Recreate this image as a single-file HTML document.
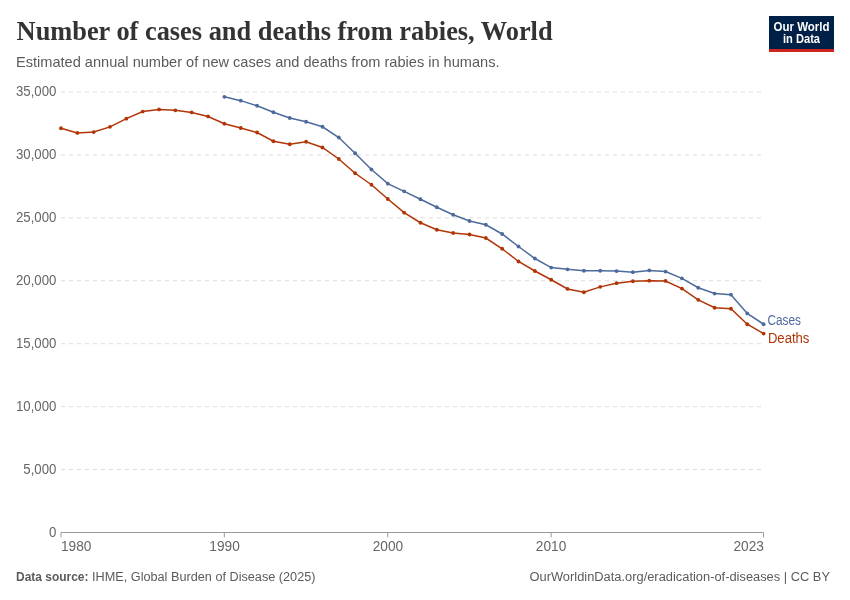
<!DOCTYPE html>
<html><head><meta charset="utf-8"><style>
html,body{margin:0;padding:0;background:#fff;width:850px;height:600px;overflow:hidden;}
svg{position:absolute;left:0;top:0;will-change:transform;}
text{font-family:"Liberation Sans",sans-serif;}
</style></head><body>
<svg width="850" height="600" viewBox="0 0 850 600">
<text x="16.6" y="40" font-family="Liberation Serif" font-weight="bold" font-size="27" fill="#333" textLength="536" lengthAdjust="spacingAndGlyphs" style="font-family:'Liberation Serif',serif">Number of cases and deaths from rabies, World</text>
<text x="16" y="66.6" font-size="15" fill="#5b5b5b" textLength="483.5" lengthAdjust="spacingAndGlyphs">Estimated annual number of new cases and deaths from rabies in humans.</text>
<rect x="769" y="16" width="65" height="36" fill="#002147"/>
<rect x="769" y="49" width="65" height="3" fill="#ce261e"/>
<text x="773.5" y="30.5" font-size="12.4" font-weight="bold" fill="#fff" textLength="56" lengthAdjust="spacingAndGlyphs">Our World</text>
<text x="783" y="42.7" font-size="12.4" font-weight="bold" fill="#fff" textLength="37" lengthAdjust="spacingAndGlyphs">in Data</text>
<g stroke="#ddd" stroke-width="1" stroke-dasharray="4,4"><line x1="61" x2="762" y1="92.0" y2="92.0"/><line x1="61" x2="762" y1="154.93" y2="154.93"/><line x1="61" x2="762" y1="217.86" y2="217.86"/><line x1="61" x2="762" y1="280.79" y2="280.79"/><line x1="61" x2="762" y1="343.71" y2="343.71"/><line x1="61" x2="762" y1="406.64" y2="406.64"/><line x1="61" x2="762" y1="469.57" y2="469.57"/></g>
<g font-size="14" fill="#666" text-anchor="end"><text x="56.4" y="96.0" textLength="40.46" lengthAdjust="spacingAndGlyphs">35,000</text><text x="56.4" y="158.93" textLength="40.46" lengthAdjust="spacingAndGlyphs">30,000</text><text x="56.4" y="221.86" textLength="40.46" lengthAdjust="spacingAndGlyphs">25,000</text><text x="56.4" y="284.79" textLength="40.46" lengthAdjust="spacingAndGlyphs">20,000</text><text x="56.4" y="347.71" textLength="40.46" lengthAdjust="spacingAndGlyphs">15,000</text><text x="56.4" y="410.64" textLength="40.46" lengthAdjust="spacingAndGlyphs">10,000</text><text x="56.4" y="473.57" textLength="33.1" lengthAdjust="spacingAndGlyphs">5,000</text><text x="56.4" y="536.5" textLength="7.4" lengthAdjust="spacingAndGlyphs">0</text></g>
<line x1="61" x2="763.5" y1="532.5" y2="532.5" stroke="#999" stroke-width="1"/>
<g stroke="#999" stroke-width="1">
<line x1="61" x2="61" y1="532.5" y2="537.3"/><line x1="224.3" x2="224.3" y1="532.5" y2="537.3"/><line x1="387.7" x2="387.7" y1="532.5" y2="537.3"/><line x1="551.1" x2="551.1" y1="532.5" y2="537.3"/><line x1="763.5" x2="763.5" y1="532.5" y2="537.3"/>
</g>
<g font-size="14" fill="#666" text-anchor="middle">
<text x="61" y="550.6" text-anchor="start" textLength="30.5" lengthAdjust="spacingAndGlyphs">1980</text><text x="224.6" y="550.6" textLength="30.5" lengthAdjust="spacingAndGlyphs">1990</text><text x="387.9" y="550.6" textLength="30.5" lengthAdjust="spacingAndGlyphs">2000</text><text x="551.1" y="550.6" textLength="30.5" lengthAdjust="spacingAndGlyphs">2010</text><text x="764" y="550.6" text-anchor="end" textLength="30.5" lengthAdjust="spacingAndGlyphs">2023</text>
</g>
<path d="M224.4,96.85 L240.74,100.65 L257.08,105.75 L273.42,112.25 L289.76,118.0 L306.1,121.75 L322.44,126.75 L338.78,137.5 L355.12,153.25 L371.46,169.5 L387.8,183.65 L404.14,191.35 L420.48,199.25 L436.82,207.25 L453.16,214.75 L469.5,221.0 L485.84,224.75 L502.18,234.0 L518.52,246.5 L534.86,258.5 L551.2,267.55 L567.54,269.35 L583.88,270.75 L600.22,270.75 L616.56,271.05 L632.9,272.15 L649.24,270.45 L665.58,271.55 L681.92,278.35 L698.26,287.75 L714.6,293.55 L730.94,294.65 L747.28,313.45 L763.62,324.25" fill="none" stroke="#4C6A9C" stroke-width="1.5"/>
<g fill="#4C6A9C"><circle cx="224.4" cy="96.85" r="1.9"/><circle cx="240.74" cy="100.65" r="1.9"/><circle cx="257.08" cy="105.75" r="1.9"/><circle cx="273.42" cy="112.25" r="1.9"/><circle cx="289.76" cy="118.0" r="1.9"/><circle cx="306.1" cy="121.75" r="1.9"/><circle cx="322.44" cy="126.75" r="1.9"/><circle cx="338.78" cy="137.5" r="1.9"/><circle cx="355.12" cy="153.25" r="1.9"/><circle cx="371.46" cy="169.5" r="1.9"/><circle cx="387.8" cy="183.65" r="1.9"/><circle cx="404.14" cy="191.35" r="1.9"/><circle cx="420.48" cy="199.25" r="1.9"/><circle cx="436.82" cy="207.25" r="1.9"/><circle cx="453.16" cy="214.75" r="1.9"/><circle cx="469.5" cy="221.0" r="1.9"/><circle cx="485.84" cy="224.75" r="1.9"/><circle cx="502.18" cy="234.0" r="1.9"/><circle cx="518.52" cy="246.5" r="1.9"/><circle cx="534.86" cy="258.5" r="1.9"/><circle cx="551.2" cy="267.55" r="1.9"/><circle cx="567.54" cy="269.35" r="1.9"/><circle cx="583.88" cy="270.75" r="1.9"/><circle cx="600.22" cy="270.75" r="1.9"/><circle cx="616.56" cy="271.05" r="1.9"/><circle cx="632.9" cy="272.15" r="1.9"/><circle cx="649.24" cy="270.45" r="1.9"/><circle cx="665.58" cy="271.55" r="1.9"/><circle cx="681.92" cy="278.35" r="1.9"/><circle cx="698.26" cy="287.75" r="1.9"/><circle cx="714.6" cy="293.55" r="1.9"/><circle cx="730.94" cy="294.65" r="1.9"/><circle cx="747.28" cy="313.45" r="1.9"/><circle cx="763.62" cy="324.25" r="1.9"/></g>
<path d="M61.0,128.25 L77.34,132.95 L93.68,132.05 L110.02,126.85 L126.36,118.65 L142.7,111.55 L159.04,109.45 L175.38,110.35 L191.72,112.45 L208.06,116.45 L224.4,123.75 L240.74,128.0 L257.08,132.5 L273.42,141.25 L289.76,144.25 L306.1,141.75 L322.44,147.5 L338.78,159.0 L355.12,173.25 L371.46,184.75 L387.8,199.0 L404.14,212.65 L420.48,222.75 L436.82,229.75 L453.16,233.0 L469.5,234.5 L485.84,238.0 L502.18,248.75 L518.52,261.5 L534.86,271.0 L551.2,279.75 L567.54,288.95 L583.88,292.25 L600.22,286.85 L616.56,283.15 L632.9,281.25 L649.24,280.65 L665.58,280.95 L681.92,288.55 L698.26,299.85 L714.6,307.75 L730.94,308.75 L747.28,324.25 L763.62,333.55" fill="none" stroke="#B13507" stroke-width="1.5"/>
<g fill="#B13507"><circle cx="61.0" cy="128.25" r="1.9"/><circle cx="77.34" cy="132.95" r="1.9"/><circle cx="93.68" cy="132.05" r="1.9"/><circle cx="110.02" cy="126.85" r="1.9"/><circle cx="126.36" cy="118.65" r="1.9"/><circle cx="142.7" cy="111.55" r="1.9"/><circle cx="159.04" cy="109.45" r="1.9"/><circle cx="175.38" cy="110.35" r="1.9"/><circle cx="191.72" cy="112.45" r="1.9"/><circle cx="208.06" cy="116.45" r="1.9"/><circle cx="224.4" cy="123.75" r="1.9"/><circle cx="240.74" cy="128.0" r="1.9"/><circle cx="257.08" cy="132.5" r="1.9"/><circle cx="273.42" cy="141.25" r="1.9"/><circle cx="289.76" cy="144.25" r="1.9"/><circle cx="306.1" cy="141.75" r="1.9"/><circle cx="322.44" cy="147.5" r="1.9"/><circle cx="338.78" cy="159.0" r="1.9"/><circle cx="355.12" cy="173.25" r="1.9"/><circle cx="371.46" cy="184.75" r="1.9"/><circle cx="387.8" cy="199.0" r="1.9"/><circle cx="404.14" cy="212.65" r="1.9"/><circle cx="420.48" cy="222.75" r="1.9"/><circle cx="436.82" cy="229.75" r="1.9"/><circle cx="453.16" cy="233.0" r="1.9"/><circle cx="469.5" cy="234.5" r="1.9"/><circle cx="485.84" cy="238.0" r="1.9"/><circle cx="502.18" cy="248.75" r="1.9"/><circle cx="518.52" cy="261.5" r="1.9"/><circle cx="534.86" cy="271.0" r="1.9"/><circle cx="551.2" cy="279.75" r="1.9"/><circle cx="567.54" cy="288.95" r="1.9"/><circle cx="583.88" cy="292.25" r="1.9"/><circle cx="600.22" cy="286.85" r="1.9"/><circle cx="616.56" cy="283.15" r="1.9"/><circle cx="632.9" cy="281.25" r="1.9"/><circle cx="649.24" cy="280.65" r="1.9"/><circle cx="665.58" cy="280.95" r="1.9"/><circle cx="681.92" cy="288.55" r="1.9"/><circle cx="698.26" cy="299.85" r="1.9"/><circle cx="714.6" cy="307.75" r="1.9"/><circle cx="730.94" cy="308.75" r="1.9"/><circle cx="747.28" cy="324.25" r="1.9"/><circle cx="763.62" cy="333.55" r="1.9"/></g>
<text x="767.5" y="324.6" font-size="14" fill="#4C6A9C" textLength="33.5" lengthAdjust="spacingAndGlyphs">Cases</text>
<text x="767.9" y="342.8" font-size="14" fill="#B13507" textLength="41.5" lengthAdjust="spacingAndGlyphs">Deaths</text>
<text x="16" y="580.75" font-size="12.5" fill="#5b5b5b" font-weight="bold" textLength="72.5" lengthAdjust="spacingAndGlyphs">Data source:</text>
<text x="92" y="580.75" font-size="12.5" fill="#5b5b5b" textLength="223.5" lengthAdjust="spacingAndGlyphs">IHME, Global Burden of Disease (2025)</text>
<text x="830" y="580.75" font-size="12.5" fill="#5b5b5b" text-anchor="end" textLength="300.5" lengthAdjust="spacingAndGlyphs">OurWorldinData.org/eradication-of-diseases | CC BY</text>
</svg>
</body></html>
